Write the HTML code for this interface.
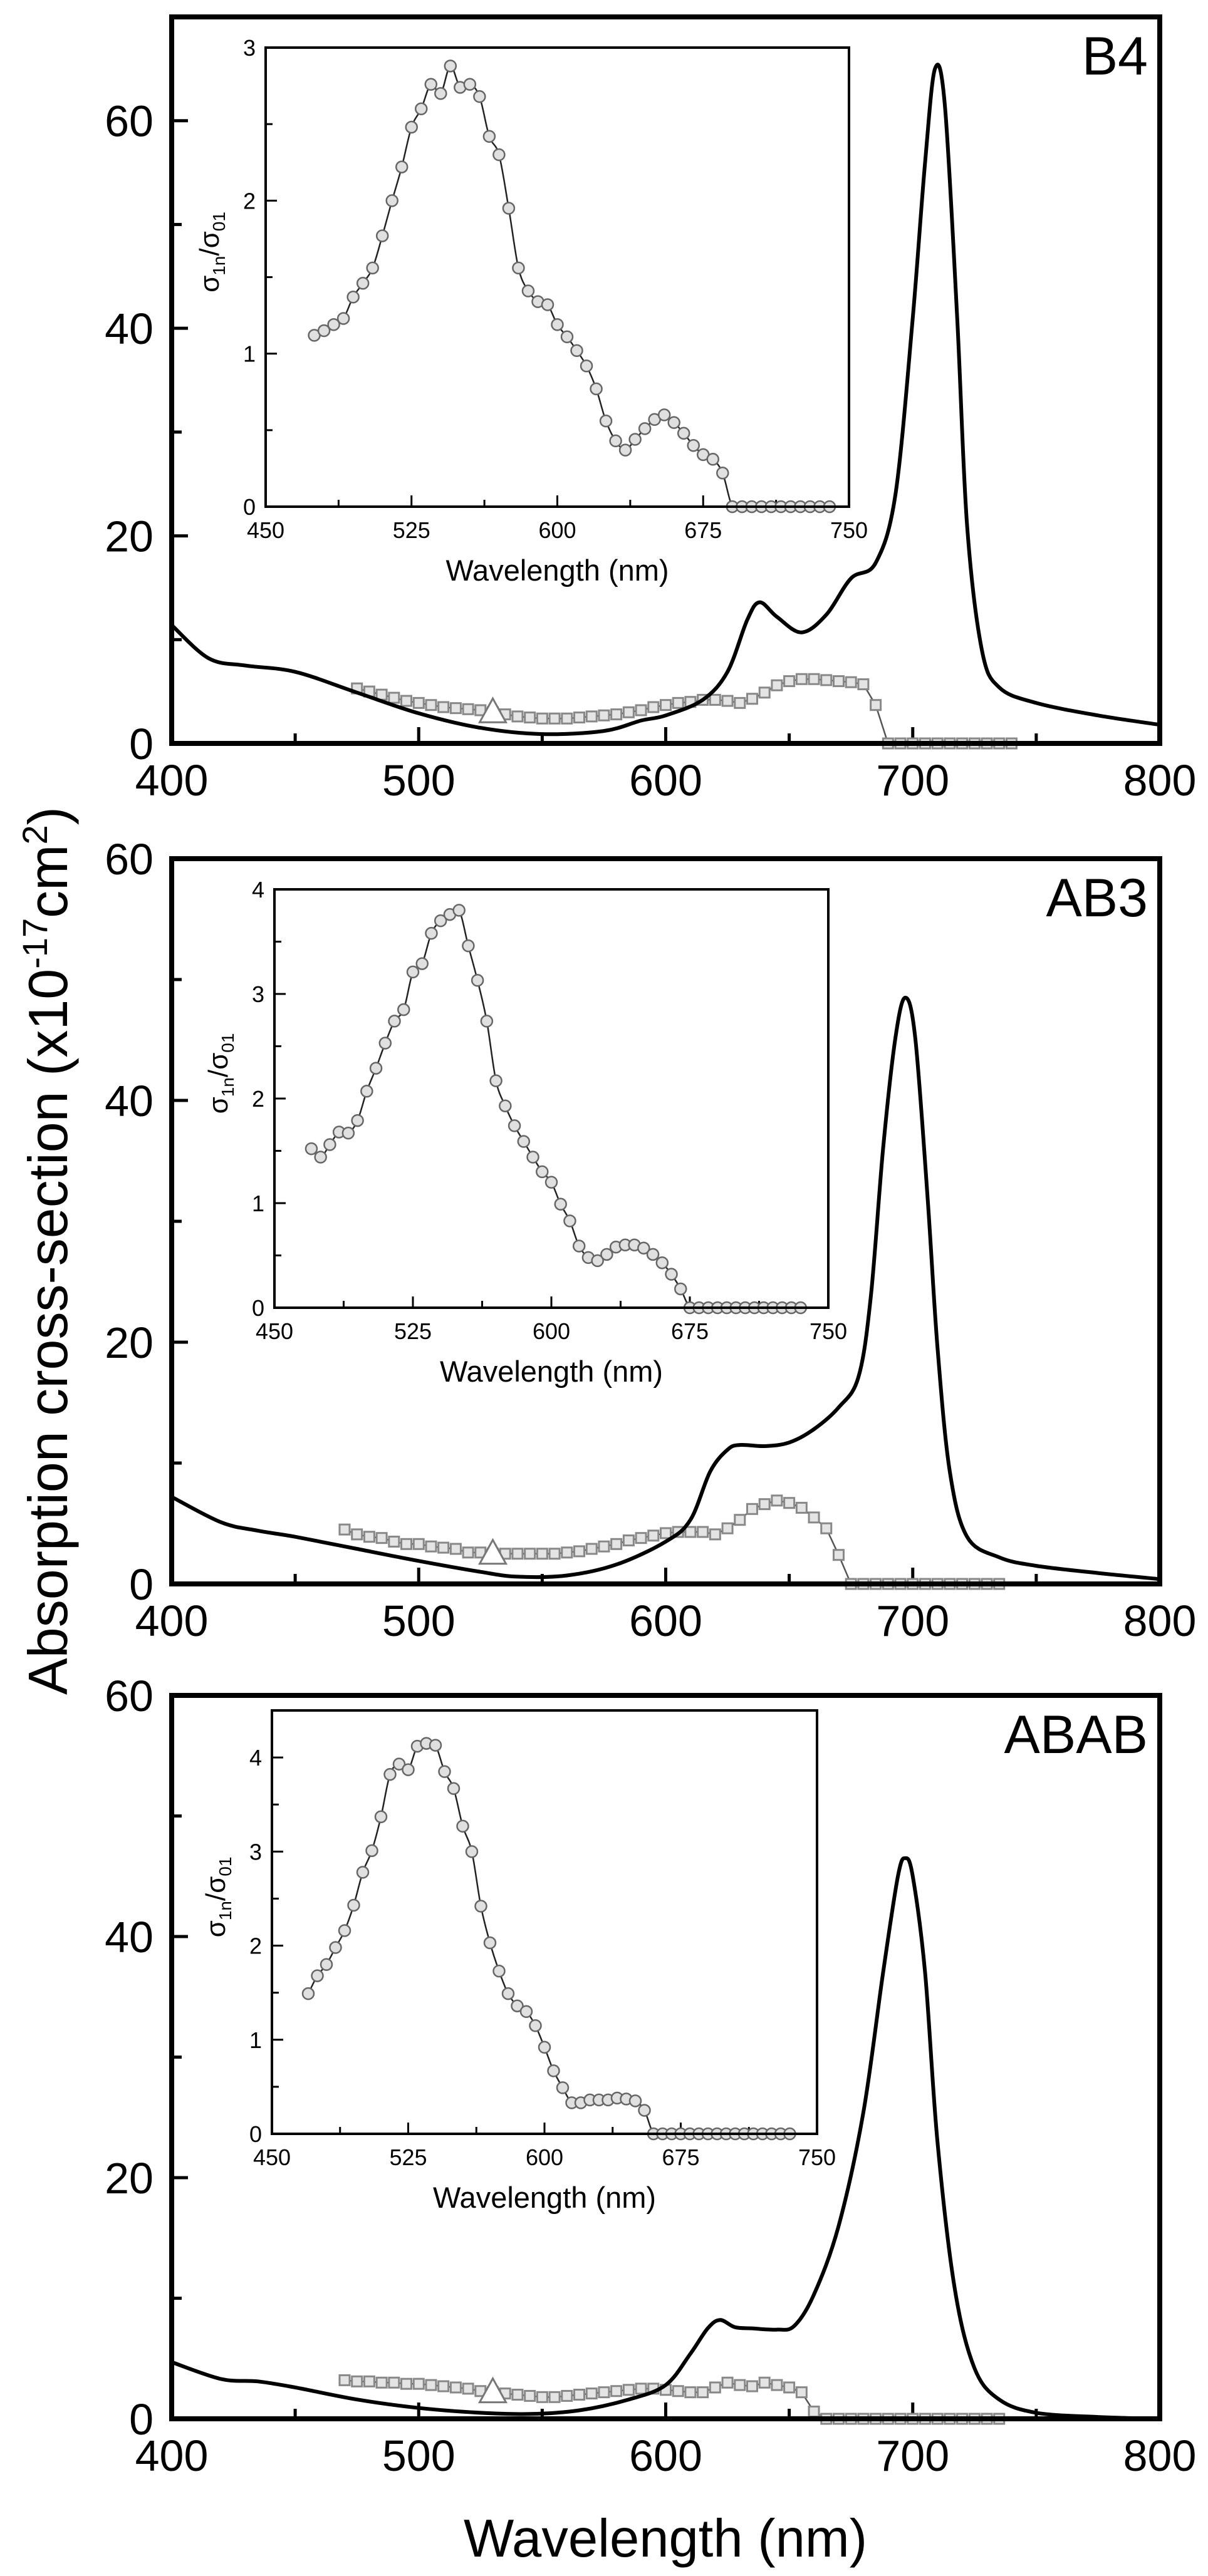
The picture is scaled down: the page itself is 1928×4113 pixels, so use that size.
<!DOCTYPE html>
<html><head><meta charset="utf-8">
<style>
html,body{margin:0;padding:0;background:#fff;}
svg{display:block;font-family:"Liberation Sans",Arial,sans-serif;}
</style></head>
<body>
<svg id="chart" width="1928" height="4113" viewBox="0 0 1928 4113" xmlns="http://www.w3.org/2000/svg">
<rect x="0" y="0" width="1928" height="4113" fill="#fff"/>
<text transform="translate(107,1997) rotate(-90)" text-anchor="middle" font-size="88">Absorption cross-section (x10<tspan dy="-32" font-size="56">-17</tspan><tspan dy="32">cm</tspan><tspan dy="-32" font-size="56">2</tspan><tspan dy="32">)</tspan></text>
<text x="1062" y="4082" text-anchor="middle" font-size="85">Wavelength (nm)</text>
</svg>
<script>
// ---------- B4 ----------
const b4Wl = [400,415,430,450,475,500,525,550,575,590,600,615,625,633,638,645,655,665,675,685,693,700,705,709,713,718,722,728,735,750,775,800];
const b4Abs = [11.4,8.2,7.5,6.9,4.9,2.9,1.5,0.9,1.2,2.2,2.7,4.2,6.9,11.9,13.6,12.2,10.7,12.4,15.9,17.4,24,41,56,65,61.5,41,21,9,5.4,3.9,2.7,1.8];
const b4TpaStart = 475;
const b4Tpa = [5.3,5.0,4.7,4.4,4.1,3.9,3.7,3.5,3.4,3.3,3.2,3.0,2.8,2.6,2.5,2.4,2.4,2.4,2.5,2.6,2.7,2.8,3.0,3.2,3.5,3.7,3.9,4.0,4.2,4.2,4.1,3.9,4.3,4.9,5.6,6.0,6.2,6.2,6.1,6.0,5.9,5.7,3.7,0,0,0,0,0,0,0,0,0,0,0];
const b4Tri = [530,3.0];
const b4RatioStart = 475;
const b4Ratio = [1.12,1.15,1.19,1.23,1.37,1.46,1.56,1.77,2.0,2.22,2.48,2.6,2.76,2.7,2.88,2.74,2.76,2.68,2.42,2.3,1.95,1.56,1.41,1.34,1.32,1.19,1.11,1.02,0.92,0.77,0.56,0.43,0.37,0.44,0.51,0.57,0.60,0.55,0.48,0.40,0.34,0.31,0.22,0,0,0,0,0,0,0,0,0,0,0];
// ---------- AB3 ----------
const ab3Wl = [400,420,435,450,475,500,525,540,560,580,600,610,618,625,630,640,650,660,670,678,683,688,693,697,701,706,710,715,722,735,750,775,800];
const ab3Abs = [7.2,5.1,4.4,3.9,2.9,1.9,1.0,0.6,0.7,1.6,3.5,5.3,9.3,11.1,11.5,11.4,11.7,12.8,14.6,17.1,23.7,36,45.2,48.5,45.2,32,19.6,9.3,3.9,2.2,1.5,0.9,0.4];
const ab3TpaStart = 470;
const ab3Tpa = [4.5,4.1,3.9,3.8,3.5,3.3,3.3,3.1,3.0,2.9,2.6,2.6,2.5,2.5,2.5,2.5,2.5,2.5,2.6,2.7,2.9,3.1,3.3,3.6,3.8,4.0,4.2,4.3,4.3,4.3,4.1,4.6,5.3,6.2,6.6,6.9,6.7,6.3,5.5,4.6,2.4,0,0,0,0,0,0,0,0,0,0,0,0,0];
const ab3Tri = [530,2.5];
const ab3RatioStart = 470;
const ab3Ratio = [1.52,1.44,1.56,1.68,1.67,1.79,2.07,2.29,2.53,2.74,2.85,3.21,3.29,3.58,3.70,3.76,3.80,3.46,3.13,2.74,2.17,1.93,1.74,1.59,1.44,1.30,1.20,0.99,0.83,0.59,0.48,0.45,0.51,0.58,0.60,0.60,0.57,0.51,0.43,0.32,0.18,0,0,0,0,0,0,0,0,0,0,0,0,0];
// ---------- ABAB ----------
const ababWl = [400,420,435,450,475,500,525,545,565,585,600,610,617,622,628,635,645,652,660,670,680,688,694,697,700,705,710,717,725,735,750,775,800];
const ababAbs = [4.7,3.3,3.1,2.6,1.6,0.9,0.5,0.4,0.7,1.6,2.8,5.4,7.5,8.2,7.6,7.5,7.4,7.7,10.3,16,25.4,37,45,46.5,45,37,23,10.8,4.2,1.6,0.5,0.15,0];
const ababTpaStart = 470;
const ababTpa = [3.2,3.1,3.1,3.0,3.0,2.9,2.9,2.8,2.7,2.6,2.5,2.3,2.2,2.1,2.0,1.9,1.8,1.8,1.9,2.0,2.1,2.2,2.3,2.4,2.5,2.5,2.4,2.3,2.2,2.2,2.6,3.0,2.8,2.7,3.0,2.8,2.6,2.2,0.6,0,0,0,0,0,0,0,0,0,0,0,0,0,0,0];
const ababTri = [530,2.2];
const ababRatioStart = 470;
const ababRatio = [1.49,1.68,1.80,1.98,2.16,2.43,2.78,3.01,3.37,3.82,3.93,3.87,4.12,4.15,4.13,3.85,3.67,3.27,3.00,2.42,2.03,1.73,1.49,1.36,1.30,1.15,0.92,0.67,0.49,0.33,0.33,0.36,0.36,0.36,0.38,0.37,0.35,0.25,0,0,0,0,0,0,0,0,0,0,0,0,0,0,0,0];

const mainYTicks = [0,20,40,60];
const mainXTicks = [400,500,600,700,800];
const insetXTicks = [450,525,600,675,750];

const NS = "http://www.w3.org/2000/svg";
const svg = document.getElementById('chart');
function mk(tag, attrs, parent){
  const e = document.createElementNS(NS, tag);
  for (const k in attrs) e.setAttribute(k, attrs[k]);
  (parent||svg).appendChild(e);
  return e;
}
function smoothPath(pts){
  let d = "M"+pts[0][0].toFixed(1)+","+pts[0][1].toFixed(1);
  for (let i=0;i<pts.length-1;i++){
    const p0=pts[Math.max(0,i-1)], p1=pts[i], p2=pts[i+1], p3=pts[Math.min(pts.length-1,i+2)];
    const c1x=p1[0]+(p2[0]-p0[0])/6, c1y=p1[1]+(p2[1]-p0[1])/6;
    const c2x=p2[0]-(p3[0]-p1[0])/6, c2y=p2[1]-(p3[1]-p1[1])/6;
    d += " C"+c1x.toFixed(1)+","+c1y.toFixed(1)+" "+c2x.toFixed(1)+","+c2y.toFixed(1)+" "+p2[0].toFixed(1)+","+p2[1].toFixed(1);
  }
  return d;
}

const panels = [
  {name:'b4', label:'B4', top:27, bottom:1187, ymax:70, wl:b4Wl, abs:b4Abs, tpaStart:b4TpaStart, tpa:b4Tpa, tri:b4Tri,
   inset:{l:424,r:1355,t:76,b:809,ymax:3,yt:[0,1,2,3]}, ratioStart:b4RatioStart, ratio:b4Ratio},
  {name:'ab3', label:'AB3', top:1371, bottom:2529, ymax:60, wl:ab3Wl, abs:ab3Abs, tpaStart:ab3TpaStart, tpa:ab3Tpa, tri:ab3Tri,
   inset:{l:438,r:1322,t:1420,b:2088,ymax:4,yt:[0,1,2,3,4]}, ratioStart:ab3RatioStart, ratio:ab3Ratio},
  {name:'abab', label:'ABAB', top:2707, bottom:3862, ymax:60, wl:ababWl, abs:ababAbs, tpaStart:ababTpaStart, tpa:ababTpa, tri:ababTri,
   inset:{l:434,r:1304,t:2731,b:3407,ymax:4.5,yt:[0,1,2,3,4]}, ratioStart:ababRatioStart, ratio:ababRatio}
];
const L=274, R=1851;

panels.forEach(p=>{
  const g = mk('g',{});
  
  
  const X = v => L + (v-400)/400*(R-L);
  const Y = v => p.bottom - v/p.ymax*(p.bottom-p.top);
  // ticks
  for (let v=0; v<=p.ymax; v+=10){
    const major = v%20===0;
    const t = mk('line',{x1:L,x2:L+(major?26:16),y1:Y(v),y2:Y(v),stroke:'#000','stroke-width':5},g);
    
    
  }
  for (let v=400; v<=800; v+=50){
    const major = v%100===0;
    const t = mk('line',{x1:X(v),x2:X(v),y1:p.bottom,y2:p.bottom-(major?26:16),stroke:'#000','stroke-width':5},g);
    
    
  }
  mainYTicks.forEach(v=>{
    if (v>p.ymax) return;
    const t = mk('text',{x:245,y:Y(v)+25,'text-anchor':'end','font-size':70},g);
    t.textContent = v;
    
    
  });
  mainXTicks.forEach(v=>{
    const t = mk('text',{x:X(v),y:p.bottom+83,'text-anchor':'middle','font-size':70},g);
    t.textContent = v;
    
    
  });
  // TPA squares
  const tpts = p.tpa.map((v,i)=>[X(p.tpaStart+5*i), Y(v)]);
  const tl = mk('polyline',{points:tpts.map(q=>q.join(',')).join(' '),fill:'none',stroke:'#555','stroke-width':2.5},g);
  
  
  tpts.forEach(q=>{
    const s = mk('rect',{x:q[0]-8,y:q[1]-8,width:16,height:16,fill:'#e4e4e4',stroke:'#888','stroke-width':3},g);
    
    
  });
  // absorption curve
  const apts = p.wl.map((w,i)=>[X(w),Y(p.abs[i])]);
  const ac = mk('path',{d:smoothPath(apts),fill:'none',stroke:'#000','stroke-width':6,'stroke-linejoin':'round'},g);
  
  
  // triangle
  const tx = X(p.tri[0]), ty = Y(p.tri[1]);
  const tr = mk('polygon',{points:(tx)+','+(ty-22)+' '+(tx-21)+','+(ty+16)+' '+(tx+21)+','+(ty+16),fill:'#fff',stroke:'#777','stroke-width':3},g);
  
  
  // frame
  const fr = mk('rect',{x:L,y:p.top,width:R-L,height:p.bottom-p.top,fill:'none',stroke:'#000','stroke-width':8},g);
  
  
  const lb = mk('text',{x:1832,y:p.top+92,'text-anchor':'end','font-size':86},g);
  lb.textContent = p.label;
  
  

  // inset
  const I = p.inset;
  const ig = mk('g',{},g);
  
  
  const IX = v => I.l + (v-450)/300*(I.r-I.l);
  const IY = v => I.b - v/I.ymax*(I.b-I.t);
  for (let v=0; v<=I.ymax+1e-9; v+=0.5){
    const major = Math.abs(v-Math.round(v))<1e-9;
    const t = mk('line',{x1:I.l,x2:I.l+(major?18:11),y1:IY(v),y2:IY(v),stroke:'#000','stroke-width':3},ig);
    
    
  }
  for (let v=450; v<=750; v+=37.5){
    const major = Math.abs((v-450)%75)<1e-9;
    const t = mk('line',{x1:IX(v),x2:IX(v),y1:I.b,y2:I.b-(major?18:11),stroke:'#000','stroke-width':3},ig);
    
    
  }
  I.yt.forEach(v=>{
    const t = mk('text',{x:I.l-16,y:IY(v)+13,'text-anchor':'end','font-size':36},ig);
    t.textContent = v;
    
    
  });
  insetXTicks.forEach(v=>{
    const t = mk('text',{x:IX(v),y:I.b+50,'text-anchor':'middle','font-size':36},ig);
    t.textContent = v;
    
    
  });
  const rpts = p.ratio.map((v,i)=>[IX(p.ratioStart+5*i), IY(v)]);
  const rl = mk('path',{d:smoothPath(rpts),fill:'none',stroke:'#222','stroke-width':2.5},ig);
  
  
  rpts.forEach(q=>{
    const c = mk('circle',{cx:q[0],cy:q[1],r:9,fill:'#e0e0e0',stroke:'#666','stroke-width':2.5},ig);
    
    
  });
  const ifr = mk('rect',{x:I.l,y:I.t,width:I.r-I.l,height:I.b-I.t,fill:'none',stroke:'#000','stroke-width':4},ig);
  
  
  const ixl = mk('text',{x:(I.l+I.r)/2,y:I.b+118,'text-anchor':'middle','font-size':47},ig);
  ixl.textContent = 'Wavelength (nm)';
  
  
  const iyl = mk('text',{transform:'translate('+(I.l-75)+','+((I.t+I.b)/2-40)+') rotate(-90)','text-anchor':'middle','font-size':44},ig);
  iyl.innerHTML = 'σ<tspan dy="10" font-size="28">1n</tspan><tspan dy="-10">/σ</tspan><tspan dy="10" font-size="28">01</tspan>';
  
  
});
</script>
</body></html>
